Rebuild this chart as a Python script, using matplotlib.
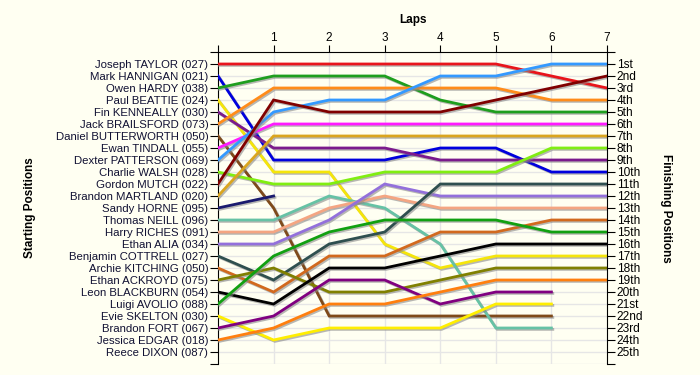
import numpy as np
import matplotlib
matplotlib.use("Agg")
import matplotlib.pyplot as plt
import matplotlib.patheffects as pe

plt.rcParams['font.family'] = ['Liberation Sans', 'DejaVu Sans']

# Drivers in starting order
drivers = ["Joseph TAYLOR", "Mark HANNIGAN", "Owen HARDY", "Paul BEATTIE",
           "Fin KENNEALLY", "Jack BRAILSFORD", "Daniel BUTTERWORTH", "Ewan TINDALL",
           "Dexter PATTERSON", "Charlie WALSH", "Gordon MUTCH", "Brandon MARTLAND",
           "Sandy HORNE", "Thomas NEILL", "Harry RICHES", "Ethan ALIA",
           "Benjamin COTTRELL", "Archie KITCHING", "Ethan ACKROYD", "Leon BLACKBURN",
           "Luigi AVOLIO", "Evie SKELTON", "Brandon FORT", "Jessica EDGAR",
           "Reece DIXON"]
car_numbers = ["027", "021", "038", "024", "030", "073", "050", "055", "069", "028",
               "022", "020", "095", "096", "091", "034", "027", "050", "075", "054",
               "088", "030", "067", "018", "087"]

colors = ["#E8141B", "#0000DD", "#1E9E1E", "#F5E50A", "#7B1A8C", "#FF8C1A",
          "#7F4A1A", "#FF1AFF", "#3399FF", "#80EE11", "#800000", "#DAA520",
          "#1A1A6E", "#66C2A5", "#F4A582", "#9370DB", "#2F4F4F", "#D2691E",
          "#808000", "#000000", "#11A011", "#FFEE00", "#800080", "#FF7F0E",
          "#999999"]

laps = [0, 1, 2, 3, 4, 5, 6, 7]

# position of each driver at the end of each lap (None = retired)
positions = [
    [1, 1, 1, 1, 1, 1, 2, 3],
    [2, 9, 9, 9, 8, 8, 10, 10],
    [3, 2, 2, 2, 4, 5, 5, 5],
    [4, 10, 10, 16, 18, 17, 17, 17],
    [5, 8, 8, 8, 9, 9, 9, 9],
    [6, 3, 3, 3, 3, 3, 4, 4],
    [7, 13, 22, 22, 22, 22, 22, None],
    [8, 6, 6, 6, 6, 6, 6, 6],
    [9, 5, 4, 4, 2, 2, 1, 1],
    [10, 11, 11, 10, 10, 10, 8, 8],
    [11, 4, 5, 5, 5, 4, 3, 2],
    [12, 7, 7, 7, 7, 7, 7, 7],
    [13, 12, None, None, None, None, None, None],
    [14, 14, 12, 13, 16, 23, 23, None],
    [15, 15, 13, 12, 13, 13, 13, 13],
    [16, 16, 14, 11, 12, 12, 12, 12],
    [17, 19, 16, 15, 11, 11, 11, 11],
    [18, 20, 17, 17, 15, 15, 14, 14],
    [19, 18, 20, 20, 19, 18, 18, 18],
    [20, 21, 18, 18, 17, 16, 16, 16],
    [21, 17, 15, 14, 14, 14, 15, 15],
    [22, 24, 23, 23, 23, 21, 21, None],
    [23, 22, 19, 19, 21, 20, 20, None],
    [24, 23, 21, 21, 20, 19, 19, 19],
    [None, None, None, None, None, None, None, None],
]

finish_labels = ["1st", "2nd", "3rd", "4th", "5th", "6th", "7th", "8th", "9th", "10th",
                 "11th", "12th", "13th", "14th", "15th", "16th", "17th", "18th", "19th",
                 "20th", "21st", "22nd", "23rd", "24th", "25th"]

bg = "#FFFFF2"
fig = plt.figure(figsize=(7, 3.75), dpi=100, facecolor=bg)
ax = fig.add_axes([218 / 700, 1 - 364 / 375, (607 - 218) / 700, (364 - 52) / 375])
ax.set_facecolor(bg)

n_pos = len(drivers)
for name, col, pos in zip(drivers, colors, positions):
    y = np.array([np.nan if p is None else p for p in pos], dtype=float)
    if np.all(np.isnan(y)):
        continue
    ax.plot(laps, y, color=col, lw=2, solid_joinstyle='miter', zorder=3,
            path_effects=[pe.SimpleLineShadow(offset=(1, -1), shadow_color='#888888', alpha=0.6),
                          pe.Normal()])

ax.set_xlim(0, 7)
ax.set_ylim(n_pos + 1, 0)

# top axis with laps
ax.xaxis.tick_top()
ax.xaxis.set_label_position('top')
ax.set_xticks(laps)
ax.set_xticklabels([''] + [str(l) for l in laps[1:]], fontsize=8.5)
ax.set_xlabel('Laps', fontsize=8.5, fontweight='bold', labelpad=6)

# left axis with starting grid
ax.set_yticks(range(0, n_pos + 2))
ax.set_yticklabels([''] + [f"{d} ({c})" for d, c in zip(drivers, car_numbers)] + [''],
                   fontsize=8.2, color='#111133')
ax.tick_params(axis='y', length=6, pad=1)
ax.tick_params(axis='x', length=5, pad=1)

# right axis with finishing positions
ax2 = ax.twinx()
ax2.set_ylim(n_pos + 1, 0)
ax2.set_yticks(range(0, n_pos + 2))
ax2.set_yticklabels([''] + finish_labels + [''], fontsize=8.6)
ax2.tick_params(axis='y', length=6, pad=1)

for a in (ax, ax2):
    a.spines['bottom'].set_visible(False)
ax2.spines['top'].set_visible(False)
ax2.spines['left'].set_visible(False)
ax.spines['right'].set_visible(False)

# light grid
for l in laps[1:-1]:
    ax.axvline(l, color='#E6E6E6', lw=1, zorder=1)
for p in range(1, n_pos + 2):
    ax.axhline(p, color='#E6E6E6', lw=1, zorder=1)

fig.text(30 / 700, 1 - 208 / 375, 'Starting Positions', rotation=90, ha='center',
         va='center', fontsize=8.5, fontweight='bold')
fig.text(666 / 700, 1 - 208 / 375, 'Finishing Positions', rotation=270, ha='center',
         va='center', fontsize=8.5, fontweight='bold')

fig.savefig('out.png', dpi=100, facecolor=bg)
